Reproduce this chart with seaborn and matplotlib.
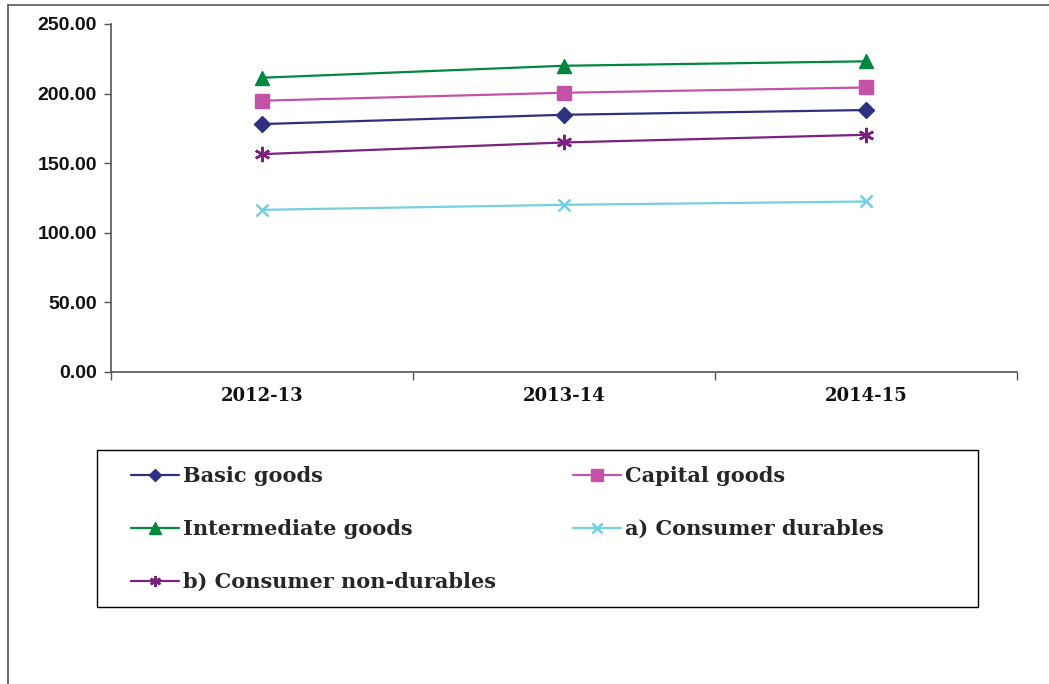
import matplotlib
matplotlib.use("Agg")
import matplotlib.pyplot as plt
import seaborn as sns
import pandas as pd
from matplotlib.lines import Line2D
from matplotlib.patches import Rectangle
from matplotlib.ticker import FixedLocator, FormatStrFormatter

years = ["2012-13", "2013-14", "2014-15"]
basic_goods = [178.1, 184.8, 188.2]
capital_goods = [194.9, 200.6, 204.4]
intermediate_goods = [211.4, 220.0, 223.2]
consumer_durables = [116.5, 120.1, 122.5]
consumer_nondurables = [156.5, 164.9, 170.4]

series_names = ["Basic goods", "Capital goods", "Intermediate goods",
                "a) Consumer durables", "b) Consumer non-durables"]
series_values = [basic_goods, capital_goods, intermediate_goods,
                 consumer_durables, consumer_nondurables]
colors = ["#2E3180", "#C453A8", "#00883E", "#74CFE0", "#7B2281"]
markers = ["D", "s", "^", "x", (6, 2, 0)]
msizes = [8, 10, 10, 9, 11]
leg_msizes = [6, 8, 8, 7, 8]

rows = []
for name, vals in zip(series_names, series_values):
    for y, v in zip(years, vals):
        rows.append({"Year": y, "Value": v, "Series": name})
df = pd.DataFrame(rows)

sns.set_style("white")
plt.rcParams['font.family'] = ['Liberation Sans', 'DejaVu Sans']

fig = plt.figure(figsize=(10.49, 6.84), dpi=100)
ax = fig.add_axes([111/1049, 1-372/684, (1017-111)/1049, (372-24)/684])

for name, c, m, ms in zip(series_names, colors, markers, msizes):
    sub = df[df["Series"] == name]
    sns.lineplot(data=sub, x="Year", y="Value", ax=ax, color=c, marker=m,
                 markersize=ms, linewidth=1.6, label=name,
                 markeredgecolor=c, markeredgewidth=1.8 if m in ("x", (6, 2, 0)) else 1)

ax.set_xlim(-0.5, len(years) - 0.5)
ax.set_ylim(0, 250)
ax.set_yticks([0, 50, 100, 150, 200, 250])
ax.yaxis.set_major_formatter(FormatStrFormatter("%.2f"))
ax.set_xticks(range(len(years)))
ax.set_xticklabels(years)
ax.xaxis.set_minor_locator(FixedLocator([i - 0.5 for i in range(len(years) + 1)]))
ax.tick_params(axis="x", which="major", length=0, pad=11)
ax.tick_params(axis="x", which="minor", length=6, width=1, color="#555555", direction="out", bottom=True)
ax.tick_params(axis="y", length=5, width=1, color="#555555", direction="out", left=True, pad=5)
for lab in ax.get_yticklabels():
    lab.set_fontweight("bold")
    lab.set_fontsize(14)
    lab.set_color("#111111")
for lab in ax.get_xticklabels():
    lab.set_fontfamily("DejaVu Serif")
    lab.set_fontweight("bold")
    lab.set_fontsize(13)
    lab.set_color("#111111")
ax.set_xlabel("")
ax.set_ylabel("")
for s in ["top", "right"]:
    ax.spines[s].set_visible(False)
for s in ["left", "bottom"]:
    ax.spines[s].set_color("#555555")
    ax.spines[s].set_linewidth(1.2)

handles, labels = ax.get_legend_handles_labels()
ax.get_legend().remove()
order = [0, 2, 4, 1, 3]
leg = fig.legend([handles[i] for i in order], [labels[i] for i in order],
                 ncol=2, loc="upper left",
                 bbox_to_anchor=(131/1049, 1-466/684),
                 frameon=False,
                 prop={"family": "DejaVu Serif", "weight": "bold", "size": 15},
                 handlelength=2.3, handletextpad=0.2, labelspacing=1.58,
                 columnspacing=3.7, borderpad=0, borderaxespad=0)
for h, i in zip(leg.legend_handles, order):
    h.set_markersize(leg_msizes[i])

# legend box
fig.add_artist(Rectangle((97/1049, 1-607/684), 881/1049, 157/684,
                         transform=fig.transFigure, fill=False,
                         edgecolor="black", linewidth=1.0))

# outer frame of chart area
fig.add_artist(Line2D([8/1049, 8/1049], [0, 1-5/684], transform=fig.transFigure, color="#555555", lw=1.2))
fig.add_artist(Line2D([8/1049, 1], [1-5/684, 1-5/684], transform=fig.transFigure, color="#555555", lw=1.2))

fig.savefig("out.png", dpi=100)
